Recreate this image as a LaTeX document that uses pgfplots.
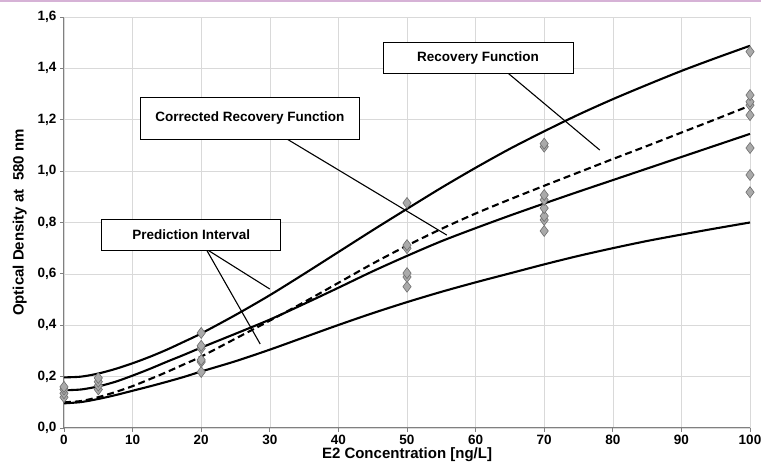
\documentclass[border=0pt]{standalone}
\usepackage{fontspec}
\setmainfont{Liberation Sans}
\usepackage{pgfplots}
\pgfplotsset{compat=1.18}
\definecolor{gridgray}{RGB}{217,217,217}
\definecolor{axgray}{RGB}{128,128,128}
\definecolor{markfill}{RGB}{170,170,170}
\definecolor{markdraw}{RGB}{110,110,110}
\definecolor{topline}{RGB}{214,178,214}
\begin{document}
\begin{tikzpicture}
\useasboundingbox (-64pt,-40pt) rectangle (697pt,428pt);
\draw[topline, line width=1.2pt] (-64pt,427pt) -- (697pt,427pt);
\begin{axis}[
  scale only axis, width=686pt, height=411pt,
  xmin=0, xmax=100, ymin=0, ymax=1.6,
  xtick={0,10,...,100}, ytick={0,0.2,...,1.6},
  axis lines*=left, axis line style={axgray, line width=1pt},
  tick align=outside, major tick length=4pt, tick style={axgray, line width=0.8pt},
  grid=major, grid style={gridgray, line width=0.6pt},
  /pgf/number format/assume math mode=true,
  /pgf/number format/use comma,
  yticklabel style={/pgf/number format/fixed, /pgf/number format/fixed zerofill, /pgf/number format/precision=1},
  ticklabel style={font=\fontsize{13.5}{15}\selectfont\bfseries},
  xlabel={E2 Concentration [ng/L]}, ylabel={Optical Density at\ \ 580 nm},
  label style={font=\fontsize{15}{17}\selectfont\bfseries},
  xlabel style={yshift=4pt}, ylabel style={yshift=4pt},
  clip=false,
]
% annotation leader lines
\draw[black, line width=1.1pt] (axis cs:64.7,1.382) -- (axis cs:78.1,1.082);
\draw[black, line width=1.1pt] (axis cs:32.5,1.125) -- (axis cs:55.8,0.751);
\draw[black, line width=1.1pt] (axis cs:20.7,0.697) -- (axis cs:30.0,0.541);
\draw[black, line width=1.1pt] (axis cs:20.7,0.697) -- (axis cs:28.6,0.327);
% prediction interval, upper
\addplot[black, line width=2.1pt, smooth, no marks] coordinates {
(0,0.197) (2.5,0.200) (5,0.212) (7.5,0.230) (10,0.252) (12.5,0.277) (15,0.305)
(17.5,0.336) (20,0.368) (25,0.440) (30,0.517) (35,0.600) (40,0.685) (45,0.770)
(50,0.853) (55,0.935) (60,1.013) (65,1.087) (70,1.155) (75,1.220) (80,1.280)
(85,1.336) (90,1.390) (95,1.440) (100,1.488)};
% recovery function
\addplot[black, line width=2.1pt, smooth, no marks] coordinates {
(0,0.147) (2.5,0.150) (5,0.162) (7.5,0.180) (10,0.204) (12.5,0.230) (15,0.258)
(17.5,0.285) (20,0.313) (25,0.367) (30,0.422) (35,0.483) (40,0.546) (45,0.610)
(50,0.670) (55,0.727) (60,0.778) (65,0.827) (70,0.874) (75,0.920) (80,0.965)
(85,1.010) (90,1.055) (95,1.100) (100,1.145)};
% prediction interval, lower
\addplot[black, line width=2.1pt, smooth, no marks] coordinates {
(0,0.096) (2.5,0.101) (5,0.113) (7.5,0.128) (10,0.145) (12.5,0.162) (15,0.180)
(17.5,0.199) (20,0.220) (25,0.260) (30,0.305) (35,0.353) (40,0.401) (45,0.447)
(50,0.490) (55,0.530) (60,0.567) (65,0.602) (70,0.637) (75,0.670) (80,0.700)
(85,0.728) (90,0.753) (95,0.777) (100,0.800)};
% corrected recovery function
\addplot[black, line width=2.1pt, smooth, no marks, dash pattern=on 7pt off 4pt] coordinates {
(0,0.100) (2.5,0.105) (5,0.120) (7.5,0.140) (10,0.163) (12.5,0.190) (15,0.218)
(17.5,0.248) (20,0.278) (25,0.348) (30,0.418) (35,0.490) (40,0.565) (45,0.640)
(50,0.710) (55,0.775) (60,0.835) (65,0.890) (70,0.943) (75,0.995) (80,1.047)
(85,1.098) (90,1.150) (95,1.202) (100,1.255)};
% measurements
\addplot[only marks, mark=diamond*, mark size=5.5pt,
  mark options={fill=markfill, draw=markdraw, line width=0.6pt}] coordinates {
(0,0.12) (0,0.135) (0,0.15) (0,0.16)
(5,0.15) (5,0.165) (5,0.18) (5,0.195)
(20,0.218) (20,0.257) (20,0.265) (20,0.31) (20,0.32) (20,0.37)
(50,0.55) (50,0.588) (50,0.603) (50,0.70) (50,0.712) (50,0.876)
(70,0.767) (70,0.81) (70,0.825) (70,0.856) (70,0.888) (70,0.907) (70,1.095) (70,1.107)
(100,0.918) (100,0.985) (100,1.09) (100,1.218) (100,1.257) (100,1.27) (100,1.296) (100,1.465)};
\draw[black, line width=0.9pt, fill=white] (axis cs:46.5,1.382) rectangle (axis cs:74.2,1.50)
  node[pos=0.5, font=\fontsize{13.5}{15}\selectfont\bfseries] {Recovery Function};
\draw[black, line width=0.9pt, fill=white] (axis cs:11.1,1.125) rectangle (axis cs:43.1,1.288)
  node[pos=0.5, font=\fontsize{13.5}{15}\selectfont\bfseries] {Corrected Recovery Function};
\draw[black, line width=0.9pt, fill=white] (axis cs:5.5,0.693) rectangle (axis cs:31.6,0.813)
  node[pos=0.5, font=\fontsize{13.5}{15}\selectfont\bfseries] {Prediction Interval};
\end{axis}
\end{tikzpicture}
\end{document}
